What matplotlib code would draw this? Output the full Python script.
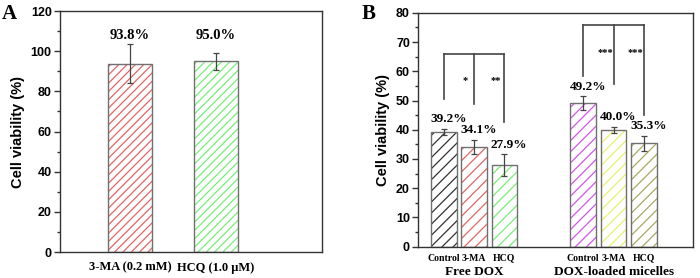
"""Cell viability bar charts: autophagy inhibitors alone (A) and with DOX (B)."""
import matplotlib
matplotlib.use("Agg")
import matplotlib.pyplot as plt
from matplotlib.ticker import MultipleLocator

# ---- panel A data
a_labels = ["3-MA (0.2 mM)", "HCQ (1.0 \u03bcM)"]
a_values = [93.8, 95.0]
a_errors = [9.7, 4.3]
a_colors = ["#e06666", "#77ee77"]

# ---- panel B data
b_ticklabels = ["Control", "3-MA", "HCQ", "Control", "3-MA", "HCQ"]
b_groups = ["Free DOX", "DOX-loaded micelles"]
b_values = [39.2, 34.1, 27.9, 49.2, 40.0, 35.3]
b_errors = [1.1, 2.4, 3.7, 2.3, 1.0, 2.7]
b_colors = ["#333333", "#e06666", "#77ee77", "#d455e8", "#e6f36a", "#a9a862"]
# significance brackets: bar indices, bracket height, lower ends, stars
b_sig_bars = [(0, 1, 2), (3, 4, 5)]
b_sig_height = [66.0, 75.8]
b_sig_ends = [[50.6, 48.8, 42.5], [58.3, 55.5, 45.0]]
b_sig_stars = [["*", "**"], ["***", "***"]]

EDGE = "#707070"
AXC = "#333333"
SANS = "Liberation Sans"
SERIF = "Liberation Serif"

plt.rcParams["hatch.linewidth"] = 0.9


def style_axes(ax, ymax, major, minor):
    for s in ax.spines.values():
        s.set_color(AXC)
        s.set_linewidth(1.0)
    ax.set_ylim(0, ymax)
    ax.yaxis.set_major_locator(MultipleLocator(major))
    ax.yaxis.set_minor_locator(MultipleLocator(minor))
    ax.tick_params(axis="y", which="major", length=4, width=1, color=AXC, pad=2)
    ax.tick_params(axis="y", which="minor", length=2.5, width=1, color=AXC)
    ax.tick_params(axis="x", length=0)
    for t in ax.get_yticklabels():
        t.set_fontfamily(SANS)
        t.set_fontweight("bold")
        t.set_fontsize(9)
    ax.set_ylabel("Cell viability (%)", fontfamily=SANS, fontweight="bold",
                  fontsize=10.5, labelpad=4)


def hatched_bars(ax, xs, vals, errs, colors, width, hatch):
    for x, v, c in zip(xs, vals, colors):
        ax.bar(x, v, width, color="white", edgecolor=c, linewidth=0, hatch=hatch)
        ax.bar(x, v, width, fill=False, edgecolor=EDGE, linewidth=1.0)
    ax.errorbar(xs, vals, yerr=errs, fmt="none", ecolor="#444444",
                elinewidth=0.9, capsize=2.5, capthick=0.9)


fig = plt.figure(figsize=(7.0, 2.78), dpi=100)

# ---- panel A
axA = fig.add_axes([0.0857, 0.0935, 0.3743, 0.8665])
xa = [1, 2]
hatched_bars(axA, xa, a_values, a_errors, a_colors, 0.515, "////")
axA.set_xlim(0.18, 3.245)
style_axes(axA, 120, 20, 10)
axA.set_xticks(xa)
axA.set_xticklabels(a_labels, fontfamily=SERIF, fontweight="bold", fontsize=9)
axA.tick_params(axis="x", pad=7)
for x, v in zip(xa, a_values):
    axA.text(x, 108, f"{v:.1f}%", ha="center", va="center",
             fontfamily=SERIF, fontweight="bold", fontsize=10.5)
fig.text(0.003, 0.985, "A", ha="left", va="top", fontfamily=SERIF,
         fontweight="bold", fontsize=15)

# ---- panel B
axB = fig.add_axes([0.5976, 0.1126, 0.3924, 0.8414])
xb = [1, 2, 3, 5.6, 6.6, 7.6]
hatched_bars(axB, xb, b_values, b_errors, b_colors, 0.85, "///")
axB.set_xlim(0.16, 9.22)
style_axes(axB, 80, 10, 5)
axB.set_xticks(xb)
axB.set_xticklabels(b_ticklabels, fontfamily=SERIF, fontweight="bold", fontsize=7)
axB.tick_params(axis="x", pad=5)
for x, v, e in zip(xb, b_values, b_errors):
    axB.text(x + 0.15, v + e + 1.2, f"{v:.1f}%", ha="center", va="bottom",
             fontfamily=SERIF, fontweight="bold", fontsize=9.5)
for gi, name in enumerate(b_groups):
    gx = sum(xb[gi * 3:gi * 3 + 3]) / 3
    axB.text(gx, -0.107, name, transform=axB.get_xaxis_transform(),
             ha="center", va="center", fontfamily=SERIF, fontweight="bold",
             fontsize=9.5)

for idx, h, ends, stars in zip(b_sig_bars, b_sig_height, b_sig_ends, b_sig_stars):
    xs = [xb[i] for i in idx]
    axB.plot([xs[0], xs[-1]], [h, h], color="#444444", lw=1.2)
    for x, d in zip(xs, ends):
        axB.plot([x, x], [h, d], color="#444444", lw=1.2)
    for k, s in enumerate(stars):
        axB.text((xs[k] + xs[k + 1]) / 2 + 0.22, h - 9.3, s, ha="center",
                 va="center", fontfamily=SERIF, fontweight="bold", fontsize=7.5)

fig.text(0.517, 0.985, "B", ha="left", va="top", fontfamily=SERIF,
         fontweight="bold", fontsize=15)

fig.savefig("out.png", dpi=100)
